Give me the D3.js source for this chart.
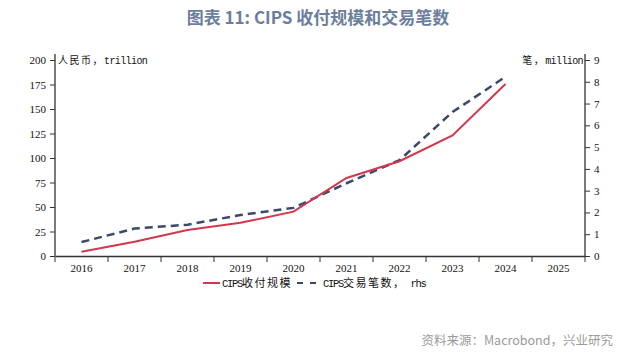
<!DOCTYPE html>
<html><head><meta charset="utf-8">
<script src="https://cdn.jsdelivr.net/npm/d3@7"></script>
<style>body{margin:0;background:#fff}svg{display:block}</style>
</head><body><svg id="c" width="640" height="355"></svg>
<script>
const years = ["2016","2017","2018","2019","2020","2021","2022","2023","2024","2025"];
const payments = [4.4,14.6,26.5,33.9,45.3,79.6,96.7,123.1,175.5,null]; // 人民币 trillion
const transactions = [0.64,1.26,1.44,1.88,2.21,3.34,4.40,6.61,8.23,null]; // million, rhs
const leftTicks = [0,25,50,75,100,125,150,175,200];
const rightTicks = [0,1,2,3,4,5,6,7,8,9];

const svg = d3.select("#c");
const L = 55, R = 585, T = 60, B = 256;
const x = d3.scaleBand().domain(years).range([L, R]);
const yL = d3.scaleLinear().domain([0,200]).range([B, T]);
const yR = d3.scaleLinear().domain([0,9]).range([B, T]);

svg.append("text").attr("x",318).attr("y",24).attr("text-anchor","middle")
  .attr("font-family","Noto Sans CJK SC").attr("font-weight","bold").attr("font-size",17)
  .attr("fill","#6b7f9c").text("图表 11: CIPS 收付规模和交易笔数");

const axCol = "#333";
const gL = svg.append("g").attr("transform",`translate(${L},0)`)
  .call(d3.axisLeft(yL).tickValues(leftTicks).tickSize(5).tickPadding(4));
const gR = svg.append("g").attr("transform",`translate(${R},0)`)
  .call(d3.axisRight(yR).tickValues(rightTicks).tickSize(5).tickPadding(4));
const gX = svg.append("g").attr("transform",`translate(0,${B})`)
  .call(d3.axisBottom(x).tickSize(0).tickPadding(8));
gX.selectAll(".bt").data(d3.range(years.length+1)).enter().append("line")
  .attr("x1",i=>L+i*x.step()).attr("x2",i=>L+i*x.step()).attr("y1",0).attr("y2",6)
  .attr("stroke",axCol);
[gL,gR,gX].forEach(g=>{
  g.select(".domain").attr("stroke",axCol).attr("stroke-width",1.3);
  g.selectAll(".tick line").attr("stroke",axCol);
  g.selectAll("text").attr("font-family","Liberation Serif").attr("font-size",11).attr("fill","#111");
});
gL.select(".domain").attr("d",`M0,${B}V${T-6}`);
gR.select(".domain").attr("d",`M0,${B}V${T-6}`);

// mixed text: narrow latin mono, CJK glyphs
function mixed(sel, str, latinSize, latinSpacing, cjkSize){
  const parts = str.match(/[\u3000-\u9fff\uff00-\uffef]+|[^\u3000-\u9fff\uff00-\uffef]+/g);
  parts.forEach(p=>{
    const cjk = /[\u3000-\u9fff\uff00-\uffef]/.test(p);
    sel.append("tspan").attr("font-family", cjk ? "Noto Sans CJK SC" : "Liberation Mono")
      .attr("font-size", cjk ? cjkSize : latinSize)
      .attr("letter-spacing", cjk ? 1.5 : latinSpacing)
      .text(p);
  });
}
const t1 = svg.append("text").attr("x",L+3).attr("y",T+4).attr("fill","#111").style("white-space","pre");
mixed(t1, "人民币，trillion", 10, -0.6, 10);
const t2 = svg.append("text").attr("x",R-2).attr("y",T+4).attr("text-anchor","end").attr("fill","#111").style("white-space","pre");
mixed(t2, "笔，million", 10, -0.6, 10);

const cx = d => x(d) + x.bandwidth()/2;
const lineL = d3.line().defined(d=>d[1]!=null).x(d=>cx(d[0])).y(d=>yL(d[1]));
const lineR = d3.line().defined(d=>d[1]!=null).x(d=>cx(d[0])).y(d=>yR(d[1]));
svg.append("path").datum(years.map((y,i)=>[y,transactions[i]])).attr("d",lineR)
  .attr("fill","none").attr("stroke","#3b4a6b").attr("stroke-width",2.5).attr("stroke-dasharray","8,5");
svg.append("path").datum(years.map((y,i)=>[y,payments[i]])).attr("d",lineL)
  .attr("fill","none").attr("stroke","#d2374b").attr("stroke-width",2);

// legend
const lg = svg.append("g");
lg.append("line").attr("x1",203).attr("x2",220).attr("y1",283).attr("y2",283).attr("stroke","#d2374b").attr("stroke-width",2);
const l1 = lg.append("text").attr("x",222).attr("y",287).attr("fill","#111").style("white-space","pre");
mixed(l1, "CIPS收付规模", 10.5, -1.3, 11);
lg.append("line").attr("x1",297).attr("x2",321).attr("y1",283).attr("y2",283).attr("stroke","#3b4a6b").attr("stroke-width",2).attr("stroke-dasharray","6,7");
const l2 = lg.append("text").attr("x",323).attr("y",287).attr("fill","#111").style("white-space","pre");
mixed(l2, "CIPS交易笔数， rhs", 10.5, -1.3, 11);

svg.append("text").attr("x",613).attr("y",345).attr("text-anchor","end")
  .attr("font-family","Noto Sans CJK SC").attr("font-size",12.5).attr("fill","#9a9a9a")
  .text("资料来源：Macrobond，兴业研究");
</script></body></html>
